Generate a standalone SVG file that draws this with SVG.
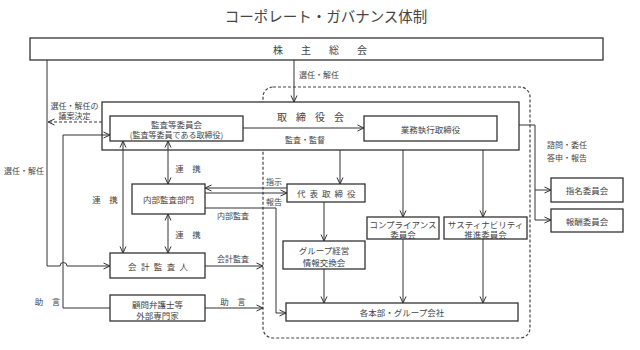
<svg xmlns="http://www.w3.org/2000/svg" width="640" height="350" viewBox="0 0 640 350">
<style>
text{font-family:"Noto Sans CJK JP","Noto Sans CJK SC",sans-serif;fill:#444;font-size:8.5px;dominant-baseline:central}
.c{text-anchor:middle}
.box{fill:#fff;stroke:#333;stroke-width:1.3}
.ln{fill:none;stroke:#333;stroke-width:1}
.a{marker-end:url(#ah)}
.d{marker-start:url(#ah);marker-end:url(#ah)}
</style>
<defs>
<marker id="ah" viewBox="0 0 8 8" refX="7.5" refY="4" markerWidth="8" markerHeight="8" markerUnits="userSpaceOnUse" orient="auto-start-reverse">
<path d="M1,1 L7.5,4 L1,7" fill="none" stroke="#333" stroke-width="1"/>
</marker>
</defs>
<rect width="640" height="350" fill="#fff"/>
<text x="326" y="15" class="c" style="font-size:14.5px">コーポレート・ガバナンス体制</text>

<g id="executive-area">
<rect x="263" y="87" width="267" height="251" rx="10" fill="none" stroke="#444" stroke-width="1.2" stroke-dasharray="3,2"/>
</g>

<g id="shareholders">
<rect class="box" x="30" y="38" width="573" height="22"/>
<text x="273" y="49.5" style="font-size:10px;letter-spacing:18px">株主総会</text>
</g>

<g id="board">
<rect class="box" x="102" y="102" width="417" height="48"/>
<text x="277" y="116" style="font-size:10px;letter-spacing:9px">取締役会</text>
</g>

<g id="audit-committee">
<rect class="box" x="110" y="116" width="133" height="25"/>
<text x="176.5" y="123.5" class="c">監査等委員会</text>
<text x="176.5" y="134.5" class="c" style="font-size:8px">(監査等委員である取締役)</text>
</g>

<g id="executive-directors">
<rect class="box" x="364" y="116" width="133" height="25"/>
<text x="430.5" y="128.5" class="c">業務執行取締役</text>
</g>

<g id="internal-audit">
<rect class="box" x="132" y="184" width="73" height="30"/>
<text x="168.5" y="199" class="c">内部監査部門</text>
</g>

<g id="accounting-auditor">
<rect class="box" x="110" y="253" width="95" height="25"/>
<text x="128" y="265.5" style="letter-spacing:4.4px">会計監査人</text>
</g>

<g id="advisors">
<rect class="box" x="110" y="295" width="95" height="26"/>
<text x="157.5" y="303.5" class="c">顧問弁護士等</text>
<text x="157.5" y="314.5" class="c">外部専門家</text>
</g>

<g id="representative">
<rect class="box" x="287" y="184" width="78" height="18"/>
<text x="297" y="193" style="letter-spacing:4px">代表取締役</text>
</g>

<g id="group-exchange">
<rect class="box" x="283" y="241" width="82" height="28"/>
<text x="324" y="250" class="c">グループ経営</text>
<text x="324" y="261.5" class="c">情報交換会</text>
</g>

<g id="compliance">
<rect class="box" x="367" y="217" width="72" height="22"/>
<text x="403" y="223.5" class="c">コンプライアンス</text>
<text x="403" y="234" class="c">委員会</text>
</g>

<g id="sustainability">
<rect class="box" x="444" y="217" width="83" height="22"/>
<text x="485.5" y="223.5" class="c">サスティナビリティ</text>
<text x="485.5" y="234" class="c">推進委員会</text>
</g>

<g id="all-divisions">
<rect class="box" x="286" y="303" width="232" height="18"/>
<text x="402" y="312" class="c">各本部・グループ会社</text>
</g>

<g id="nomination">
<rect class="box" x="551" y="178" width="72" height="24"/>
<text x="587" y="190" class="c">指名委員会</text>
</g>

<g id="compensation">
<rect class="box" x="551" y="209" width="72" height="23"/>
<text x="587" y="220.5" class="c">報酬委員会</text>
</g>

<g id="connectors">
<path class="ln a" d="M294,60 V102"/>
<path class="ln a" d="M47,60 V266 H60 A3.5,3.5 0 0 1 67,266 H110"/>
<path class="ln a" d="M102,122 H48" stroke-dasharray="3,2"/>
<path class="ln a" d="M110,308 H63 V135 H110"/>
<path class="ln a" d="M243,128 H364"/>
<path class="ln d" d="M168,141 V184"/>
<path class="ln d" d="M123,141 V253"/>
<path class="ln d" d="M168,214 V253"/>
<path class="ln a" d="M340,150 V184"/>
<path class="ln a" d="M287,188 H205"/>
<path class="ln a" d="M205,193 H287"/>
<path class="ln a" d="M205,208 H276 V313 H286"/>
<path class="ln a" d="M324,202 V241"/>
<path class="ln a" d="M324,269 V303"/>
<path class="ln a" d="M403,150 V217"/>
<path class="ln a" d="M403,239 V303"/>
<path class="ln a" d="M483,150 V217"/>
<path class="ln a" d="M483,239 V303"/>
<path class="ln a" d="M519,125 H535 V220 H551"/>
<path class="ln a" d="M535,190 H551"/>
<path class="ln a" d="M205,266 H263"/>
<path class="ln a" d="M205,308 H263"/>
</g>

<g id="labels">
<text x="319" y="74" class="c" style="font-size:8px">選任・解任</text>
<text x="74.5" y="105" class="c" style="font-size:8px">選任・解任の</text>
<text x="74.5" y="115" class="c" style="font-size:8px">議案決定</text>
<text x="24" y="170" class="c" style="font-size:8px">選任・解任</text>
<text x="305" y="139" class="c" style="font-size:8px">監査・監督</text>
<text x="188" y="168" class="c">連　携</text>
<text x="105" y="199" class="c">連　携</text>
<text x="188" y="234" class="c">連　携</text>
<text x="274" y="181" class="c" style="font-size:8px">指示</text>
<text x="274" y="201" class="c" style="font-size:8px">報告</text>
<text x="233" y="215" class="c" style="font-size:8px">内部監査</text>
<text x="233" y="258.5" class="c" style="font-size:8px">会計監査</text>
<text x="233" y="301" class="c">助　言</text>
<text x="47.5" y="301" class="c">助　言</text>
<text x="567" y="144" class="c" style="font-size:8px">諮問・委任</text>
<text x="567" y="157.5" class="c" style="font-size:8px">答申・報告</text>
</g>
</svg>
